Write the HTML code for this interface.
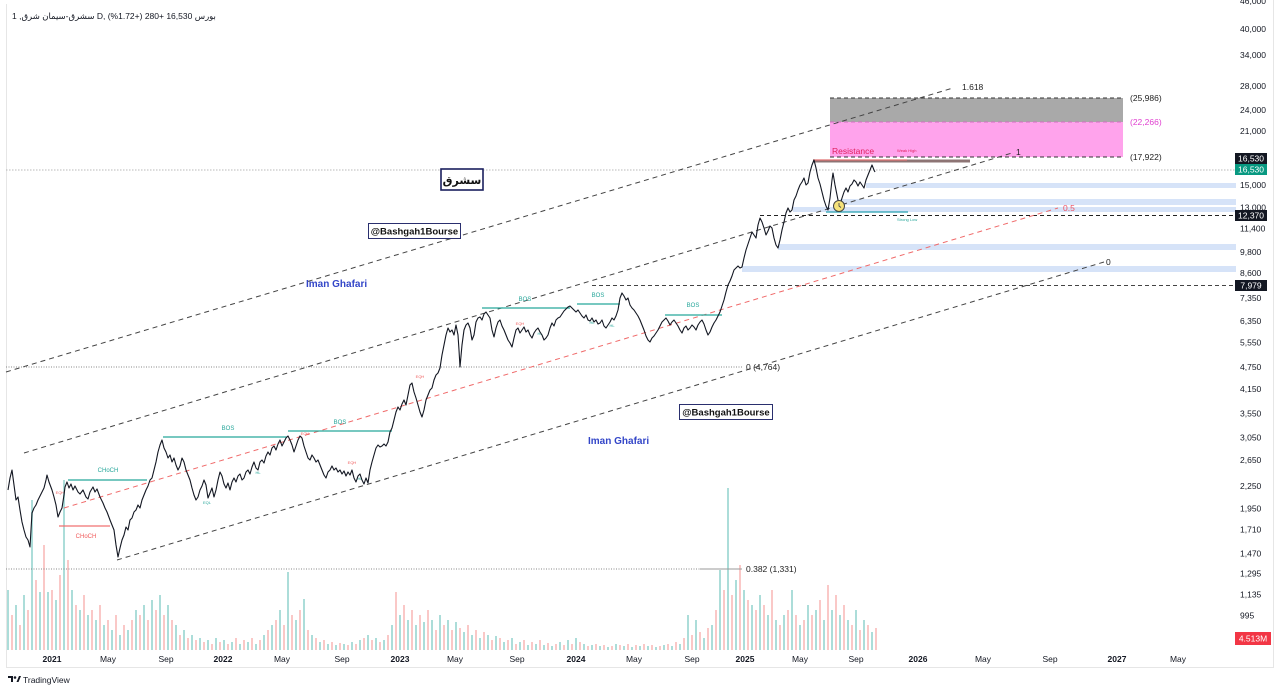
<!DOCTYPE html>
<html><head><meta charset="utf-8"><style>
html,body{margin:0;padding:0;background:#fff;width:1280px;height:692px;overflow:hidden}
svg{display:block}
text{font-family:"Liberation Sans","DejaVu Sans",sans-serif}
</style></head><body>
<svg width="1280" height="692" viewBox="0 0 1280 692" xmlns="http://www.w3.org/2000/svg">
<rect width="1280" height="692" fill="#fff"/>
<!-- frame -->
<line x1="6.5" y1="4" x2="6.5" y2="667" stroke="#e6e6e6"/>
<line x1="6" y1="667.5" x2="1274" y2="667.5" stroke="#e6e6e6"/>
<line x1="1273.5" y1="0" x2="1273.5" y2="668" stroke="#e6e6e6"/>

<!-- header -->
<text x="12" y="19" font-size="8.5" fill="#131722">1 ,سشرق-سیمان شرق D, بورس  16,530  +280 (+1.72%)</text>

<!-- volume bars -->
<g stroke-width="2" fill="none">
<path stroke="rgba(38,166,154,0.38)" d="M8 650v-60M16 650v-45M24 650v-55M32 650v-150M40 650v-58M48 650v-58M56 650v-50M64 650v-170M72 650v-60M80 650v-40M88 650v-35M96 650v-30M104 650v-25M112 650v-20M120 650v-15M128 650v-20M136 650v-40M144 650v-45M152 650v-50M160 650v-55M168 650v-45M176 650v-25M184 650v-20M192 650v-15M200 650v-12M208 650v-10M216 650v-12M224 650v-10M232 650v-8M240 650v-6M248 650v-8M256 650v-6M264 650v-15M272 650v-25M280 650v-40M288 650v-78M296 650v-30M304 650v-51M312 650v-15M320 650v-8M328 650v-6M336 650v-5M344 650v-6M352 650v-8M360 650v-10M368 650v-15M376 650v-12M384 650v-10M392 650v-25M400 650v-35M408 650v-30M416 650v-25M424 650v-28M432 650v-30M440 650v-35M448 650v-30M456 650v-28M464 650v-18M472 650v-15M480 650v-12M488 650v-15M496 650v-14M504 650v-8M512 650v-12M520 650v-8M528 650v-5M536 650v-6M544 650v-5M552 650v-4M560 650v-8M568 650v-10M576 650v-12M584 650v-6M592 650v-5M600 650v-4M608 650v-3M616 650v-6M624 650v-4M632 650v-3M640 650v-4M648 650v-4M656 650v-3M664 650v-5M672 650v-4M680 650v-6M688 650v-35M696 650v-30M704 650v-12M712 650v-25M720 650v-80M728 650v-162M736 650v-70M744 650v-60M752 650v-45M760 650v-55M768 650v-35M776 650v-30M784 650v-35M792 650v-60M800 650v-25M808 650v-45M816 650v-40M824 650v-30M832 650v-40M840 650v-35M848 650v-30M856 650v-40M864 650v-30M872 650v-18"/>
<path stroke="rgba(239,83,80,0.32)" d="M12 650v-35M20 650v-25M28 650v-40M36 650v-70M44 650v-105M52 650v-60M60 650v-75M68 650v-90M76 650v-45M84 650v-55M92 650v-40M100 650v-45M108 650v-30M116 650v-35M124 650v-25M132 650v-30M140 650v-35M148 650v-30M156 650v-40M164 650v-35M172 650v-30M180 650v-15M188 650v-12M196 650v-10M204 650v-8M212 650v-6M220 650v-8M228 650v-6M236 650v-12M244 650v-10M252 650v-12M260 650v-10M268 650v-20M276 650v-30M284 650v-25M292 650v-35M300 650v-40M308 650v-20M316 650v-12M324 650v-10M332 650v-8M340 650v-7M348 650v-5M356 650v-6M364 650v-12M372 650v-10M380 650v-8M388 650v-15M396 650v-58M404 650v-45M412 650v-40M420 650v-35M428 650v-40M436 650v-20M444 650v-25M452 650v-20M460 650v-22M468 650v-25M476 650v-20M484 650v-18M492 650v-10M500 650v-12M508 650v-10M516 650v-6M524 650v-10M532 650v-8M540 650v-10M548 650v-7M556 650v-6M564 650v-5M572 650v-6M580 650v-8M588 650v-4M596 650v-6M604 650v-5M612 650v-4M620 650v-5M628 650v-6M636 650v-5M644 650v-6M652 650v-5M660 650v-4M668 650v-6M676 650v-8M684 650v-12M692 650v-15M700 650v-18M708 650v-22M716 650v-40M724 650v-60M732 650v-55M740 650v-85M748 650v-50M756 650v-40M764 650v-45M772 650v-60M780 650v-25M788 650v-40M796 650v-35M804 650v-30M812 650v-35M820 650v-50M828 650v-65M836 650v-55M844 650v-45M852 650v-25M860 650v-20M868 650v-25M876 650v-22"/>
</g>

<!-- target zones -->
<rect x="830" y="98" width="293" height="24" fill="#a9a9a9"/>
<rect x="830" y="122" width="293" height="35" fill="#ffa3ec"/>
<line x1="830" y1="98" x2="1123" y2="98" stroke="#333" stroke-dasharray="4,3"/>
<line x1="830" y1="122" x2="1123" y2="122" stroke="#d070c0" stroke-dasharray="4,3"/>
<line x1="830" y1="157" x2="1123" y2="157" stroke="#333" stroke-dasharray="4,3"/>
<text x="1130" y="101" font-size="8.5" fill="#222">(25,986)</text>
<text x="1130" y="125" font-size="8.5" fill="#e040d0">(22,266)</text>
<text x="1130" y="160" font-size="8.5" fill="#222">(17,922)</text>
<text x="832" y="154" font-size="8.5" fill="#e0205f">Resistance</text>
<text x="897" y="152" font-size="4" fill="#e0205f">Weak High</text>

<!-- blue zones -->
<g fill="#d6e3f8">
<rect x="866" y="183" width="370" height="5"/>
<rect x="840" y="199" width="396" height="6"/>
<rect x="793" y="207" width="443" height="5"/>
<rect x="778" y="244" width="458" height="6"/>
<rect x="742" y="266" width="494" height="6"/>
</g>

<!-- horizontal levels -->
<line x1="6" y1="170" x2="1236" y2="170" stroke="#b8b8b8" stroke-dasharray="1.5,1.5"/>
<line x1="6" y1="367" x2="742" y2="367" stroke="#888" stroke-dasharray="1,1.5"/>
<text x="746" y="370" font-size="8.5" fill="#222">0 (4,764)</text>
<line x1="6" y1="569" x2="700" y2="569" stroke="#888" stroke-dasharray="1,1.5"/>
<line x1="700" y1="569" x2="742" y2="569" stroke="#999"/>
<text x="746" y="572" font-size="8.5" fill="#222">0.382 (1,331)</text>
<line x1="760" y1="215.5" x2="1236" y2="215.5" stroke="#222" stroke-dasharray="4,3"/>
<line x1="592" y1="285.5" x2="1236" y2="285.5" stroke="#444" stroke-dasharray="4,3"/>

<!-- channel lines -->
<g fill="none" stroke-width="1" stroke-dasharray="5,4">
<line x1="6" y1="372" x2="953" y2="88" stroke="#444"/>
<line x1="24" y1="453" x2="1012" y2="153" stroke="#444"/>
<line x1="117" y1="560" x2="1104" y2="262" stroke="#444"/>
<line x1="64" y1="508" x2="1058" y2="208" stroke="#f06a6a"/>
</g>
<text x="962" y="90" font-size="8.5" fill="#222">1.618</text>
<text x="1016" y="155" font-size="8.5" fill="#222">1</text>
<text x="1063" y="211" font-size="8.5" fill="#f05060">0.5</text>
<text x="1106" y="265" font-size="8.5" fill="#222">0</text>

<!-- resistance line -->
<line x1="813" y1="161" x2="970" y2="161" stroke="#8d7474" stroke-width="3"/>
<line x1="813" y1="160" x2="907" y2="160" stroke="#e07070" stroke-width="1.3"/>
<!-- strong low -->
<line x1="826" y1="212" x2="908" y2="212" stroke="#26a0b0" stroke-width="1.2"/>
<text x="897" y="221" font-size="4" fill="#26a69a">Strong Low</text>

<!-- structure lines -->
<g stroke="#26a69a" stroke-width="1.2">
<line x1="68" y1="480" x2="147" y2="480"/>
<line x1="163" y1="437" x2="287" y2="437"/>
<line x1="288" y1="431" x2="392" y2="431"/>
<line x1="482" y1="308" x2="570" y2="308"/>
<line x1="577" y1="304" x2="620" y2="304"/>
<line x1="665" y1="315" x2="722" y2="315"/>
</g>
<line x1="59" y1="526" x2="110" y2="526" stroke="#f07070" stroke-width="1.2"/>
<g font-size="6" fill="#26a69a" text-anchor="middle">
<text x="108" y="472">CHoCH</text>
<text x="228" y="430">BOS</text>
<text x="340" y="424">BOS</text>
<text x="525" y="301">BOS</text>
<text x="598" y="297">BOS</text>
<text x="693" y="307">BOS</text>
</g>
<text x="86" y="538" font-size="6" fill="#f05a5a" text-anchor="middle">CHoCH</text>
<g font-size="4" fill="#f06060" text-anchor="middle">
<text x="60" y="494">EQH</text><text x="305" y="435">EQH</text><text x="352" y="464">EQH</text>
<text x="420" y="378">EQH</text><text x="520" y="325">EQH</text>
</g>
<g font-size="4" fill="#26a69a" text-anchor="middle">
<text x="207" y="504">EQL</text><text x="258" y="474">HL</text><text x="360" y="480">HL</text>
<text x="540" y="335">HL</text><text x="592" y="324">HL</text><text x="612" y="327">HL</text>
</g>

<!-- price line -->
<polyline fill="none" stroke="#131722" stroke-width="1.1" stroke-linejoin="round" points="8,490 10,478 12,470 14,485 16,500 18,497 20,510 22,522 24,530 26,537 28,540 30,547 31,530 32,513 34,508 36,505 38,500 40,496 42,492 44,488 46,480 47,475 49,482 52,490 54,497 56,505 58,517 60,512 62,508 64,495 65,487 67,482 69,488 71,484 73,490 75,486 78,492 80,494 83,490 86,497 88,499 90,492 93,487 95,492 97,489 100,497 103,503 105,508 107,512 110,520 112,525 114,530 116,545 118,557 120,548 122,540 124,535 126,527 128,530 130,520 132,518 134,512 136,510 138,505 140,508 142,500 144,495 146,490 148,486 150,480 152,478 154,470 156,462 158,452 160,445 162,440 164,448 166,452 168,458 170,455 172,462 174,458 176,465 178,470 180,466 182,458 184,462 186,470 188,475 190,480 192,488 194,495 196,500 198,497 200,490 202,486 204,480 206,485 208,498 210,493 212,488 214,497 216,490 218,480 220,472 222,476 224,484 226,488 228,483 230,490 232,482 234,478 236,482 238,476 240,474 242,480 244,478 246,472 248,470 250,474 252,467 254,462 256,468 258,470 260,462 262,460 264,463 266,456 268,452 270,455 272,448 274,446 276,450 278,444 280,440 282,446 284,442 286,438 288,436 290,440 292,445 294,452 296,446 298,440 300,436 302,438 304,446 306,452 308,458 310,460 312,455 314,458 316,462 318,460 320,465 322,470 324,475 326,478 328,472 330,470 332,466 334,470 336,468 338,472 340,470 342,474 344,471 346,476 348,472 350,475 352,470 354,478 356,482 358,476 360,474 362,480 364,484 366,478 368,483 370,470 372,462 374,455 376,448 378,445 380,447 382,446 384,444 386,446 388,442 390,432 392,428 394,420 396,412 398,407 400,410 402,404 404,400 406,405 408,395 410,385 412,383 414,392 416,398 418,405 420,412 422,417 424,410 426,400 428,395 430,390 432,388 434,380 436,375 438,373 440,368 442,355 444,345 446,335 448,328 450,332 452,330 454,335 456,325 458,335 459,350 460,367 462,345 464,330 466,325 468,323 470,328 472,340 474,335 476,322 478,318 480,317 482,320 484,314 486,312 488,315 490,318 492,330 494,337 496,328 498,322 500,320 502,326 504,330 506,335 508,340 510,343 512,347 514,338 516,330 518,328 520,333 522,330 524,327 526,332 528,330 530,335 532,338 534,333 536,330 538,328 540,332 542,335 544,340 546,338 548,335 550,328 552,323 554,326 556,320 558,318 560,317 562,314 564,311 566,309 568,307 570,306 572,308 574,310 576,312 578,310 580,313 582,316 584,318 586,315 588,320 590,321 592,318 594,322 596,320 598,324 600,323 602,320 604,326 606,328 608,325 610,322 612,318 614,320 616,316 618,310 620,298 622,293 624,296 626,300 628,298 630,305 632,308 634,310 636,313 638,316 640,320 642,325 644,330 646,336 648,340 650,342 652,338 654,336 656,333 658,330 660,326 662,322 664,320 666,318 668,321 670,325 672,322 674,320 676,323 678,326 680,330 682,333 684,328 686,326 688,330 690,328 692,325 694,327 696,330 698,325 700,322 702,320 704,324 706,330 708,335 710,332 712,327 714,323 716,320 718,316 720,312 722,306 724,300 726,292 728,285 730,281 732,276 734,270 736,268 738,266 740,268 742,267 744,258 746,250 748,244 750,238 752,232 754,235 756,238 758,225 760,218 762,222 764,228 766,235 768,231 770,226 772,228 774,238 776,245 778,248 780,240 782,230 784,222 786,213 788,208 790,212 792,210 794,200 796,196 798,190 800,185 802,182 804,178 806,185 808,183 810,172 812,165 814,160 816,168 818,178 820,184 822,192 824,200 826,206 828,210 830,198 832,180 833,173 835,185 838,200 840,205 842,198 844,192 846,188 848,192 850,186 852,184 854,180 856,182 858,186 860,182 862,185 864,188 866,180 868,175 870,170 872,165 874,170 875,172"/>

<!-- yellow circle -->
<circle cx="839" cy="206" r="5.5" fill="#f5e27a" stroke="#444" stroke-width="1"/>
<path d="M839 203v3l2 1.5" stroke="#444" stroke-width="0.8" fill="none"/>

<!-- label boxes -->
<rect x="441" y="169" width="42" height="21" fill="#fff" stroke="#1a1f5e" stroke-width="1.6"/>
<text x="462" y="184" font-size="11" font-weight="bold" fill="#111" text-anchor="middle" font-family="DejaVu Sans, sans-serif">سشرق</text>
<rect x="368.5" y="223.5" width="92" height="15" fill="#fff" stroke="#2a2f6e" stroke-width="1"/>
<text x="414.5" y="234.5" font-size="9.5" font-weight="bold" fill="#111" text-anchor="middle">@Bashgah1Bourse</text>
<rect x="679.5" y="404.5" width="93" height="15" fill="#fff" stroke="#2a2f6e" stroke-width="1"/>
<text x="726" y="415.5" font-size="9.5" font-weight="bold" fill="#111" text-anchor="middle">@Bashgah1Bourse</text>
<text x="306" y="287" font-size="10" font-weight="bold" fill="#3346c8">Iman Ghafari</text>
<text x="588" y="444" font-size="10" font-weight="bold" fill="#3346c8">Iman Ghafari</text>

<!-- price axis -->
<g font-size="8.5" fill="#131722">
<text x="1240" y="4">46,000</text>
<text x="1240" y="32">40,000</text>
<text x="1240" y="58">34,000</text>
<text x="1240" y="89">28,000</text>
<text x="1240" y="113">24,000</text>
<text x="1240" y="134">21,000</text>
<text x="1240" y="188">15,000</text>
<text x="1240" y="210.5">13,000</text>
<text x="1240" y="231.5">11,400</text>
<text x="1240" y="255">9,800</text>
<text x="1240" y="276">8,600</text>
<text x="1240" y="301">7,350</text>
<text x="1240" y="324">6,350</text>
<text x="1240" y="345.5">5,550</text>
<text x="1240" y="370">4,750</text>
<text x="1240" y="392">4,150</text>
<text x="1240" y="416.5">3,550</text>
<text x="1240" y="440.5">3,050</text>
<text x="1240" y="463">2,650</text>
<text x="1240" y="489">2,250</text>
<text x="1240" y="511.5">1,950</text>
<text x="1240" y="532.5">1,710</text>
<text x="1240" y="556.5">1,470</text>
<text x="1240" y="576.5">1,295</text>
<text x="1240" y="597.5">1,135</text>
<text x="1240" y="618.5">995</text>
<text x="1240" y="639">875</text>
</g>
<rect x="1235" y="153" width="32" height="11" fill="#131722"/>
<text x="1251" y="161.5" font-size="8.5" fill="#fff" text-anchor="middle">16,530</text>
<rect x="1235" y="164" width="32" height="11" fill="#089981"/>
<text x="1251" y="172.5" font-size="8.5" fill="#fff" text-anchor="middle">16,530</text>
<rect x="1235" y="210" width="32" height="11" fill="#131722"/>
<text x="1251" y="218.5" font-size="8.5" fill="#fff" text-anchor="middle">12,370</text>
<rect x="1235" y="280" width="32" height="11" fill="#131722"/>
<text x="1251" y="288.5" font-size="8.5" fill="#fff" text-anchor="middle">7,979</text>
<rect x="1235" y="632" width="36" height="13" fill="#f23645"/>
<text x="1253" y="641.5" font-size="8.5" fill="#fff" text-anchor="middle">4.513M</text>

<!-- time axis -->
<g font-size="8.5" fill="#131722" text-anchor="middle">
<text x="52" y="662" font-weight="bold">2021</text>
<text x="108" y="662">May</text>
<text x="166" y="662">Sep</text>
<text x="223" y="662" font-weight="bold">2022</text>
<text x="282" y="662">May</text>
<text x="342" y="662">Sep</text>
<text x="400" y="662" font-weight="bold">2023</text>
<text x="455" y="662">May</text>
<text x="517" y="662">Sep</text>
<text x="576" y="662" font-weight="bold">2024</text>
<text x="634" y="662">May</text>
<text x="692" y="662">Sep</text>
<text x="745" y="662" font-weight="bold">2025</text>
<text x="800" y="662">May</text>
<text x="856" y="662">Sep</text>
<text x="918" y="662" font-weight="bold">2026</text>
<text x="983" y="662">May</text>
<text x="1050" y="662">Sep</text>
<text x="1117" y="662" font-weight="bold">2027</text>
<text x="1178" y="662">May</text>
</g>

<!-- TradingView logo -->
<g transform="translate(8,676)">
<path d="M0 0h5v6h-2v-4h-3z" fill="#131722"/>
<circle cx="7" cy="1.5" r="1.3" fill="#131722"/>
<path d="M8.5 6l2.5-6h2l-2.5 6z" fill="#131722"/>
</g>
<text x="23" y="683" font-size="8.5" fill="#131722">TradingView</text>
</svg>
</body></html>
